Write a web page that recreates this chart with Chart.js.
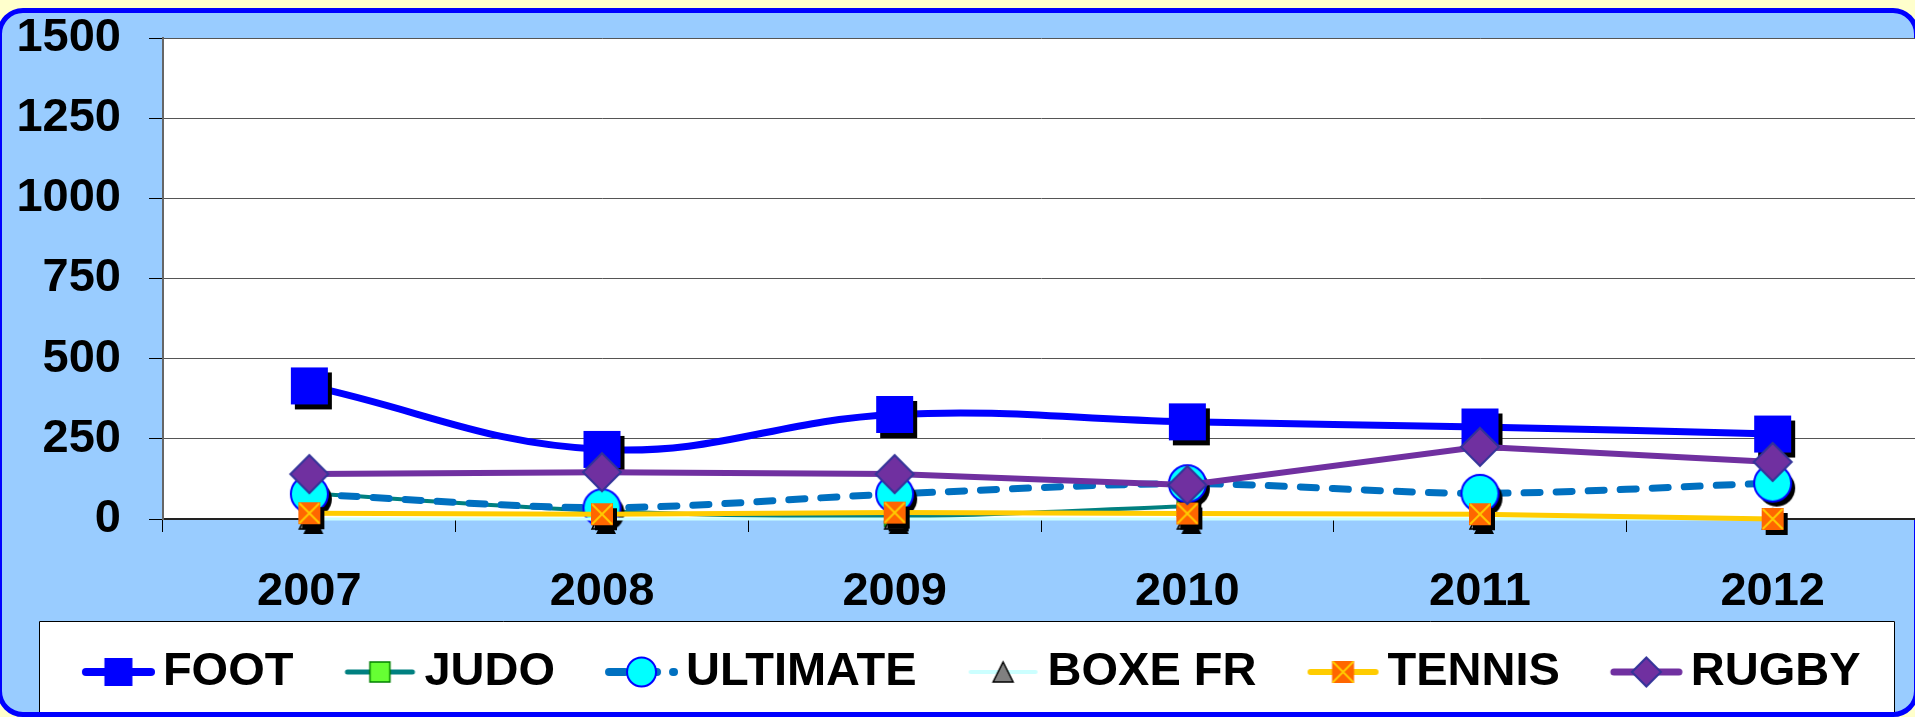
<!DOCTYPE html>
<html lang="fr">
<head>
<meta charset="utf-8">
<title>Licenciés par sport 2007-2012</title>
<script src="https://cdn.jsdelivr.net/npm/chart.js@4.4.0/dist/chart.umd.min.js"></script>
<style>
    html, body {
        margin: 0;
        padding: 0;
        width: 1915px;
        height: 717px;
        overflow: hidden;
        background: #ffffcc;
    }
    #frame {
        position: absolute;
        left: -3px;
        top: 8px;
        width: 1922px;
        height: 709px;
        box-sizing: border-box;
        border: 5px solid #0000ff;
        border-radius: 26px;
        background: #99ccff;
    }
    #wrap {
        position: absolute;
        left: 0;
        top: 0;
        width: 1947px;
        height: 717px;
    }
</style>
</head>
<body>
<div id="frame"></div>
<div id="wrap"><canvas id="chart"></canvas></div>

<script>
// ==================== DATA ====================
const years = ['2007', '2008', '2009', '2010', '2011', '2012'];

const foot     = [415, 217, 326, 303, 287, 265];
const judo     = [80, 25, 8, 40, null, null];
const ultimate = [78, 35, 78, 110, 80, 112];
const boxeFr   = [0, 0, 0, 0, 0, 0];
const tennis   = [18, 15, 20, 17, 15, 0];
const rugby    = [140, 146, 140, 106, 225, 178];

const yTicks = [0, 250, 500, 750, 1000, 1250, 1500];

// ==================== MARKERS ====================
const FONT = "'Liberation Sans', Arial, sans-serif";
const SHADOW = { dx: 4, dy: 5 };
const KEY_LEAD = 36;   // empty room left of each legend key, shifts the keys right of their box

function makeCanvas(w, h, paint) {
    const c = document.createElement('canvas');
    c.width = w;
    c.height = h;
    paint(c.getContext('2d'), w / 2, h / 2);
    return c;
}

const shapes = {
    square(ctx, x, y, s) { ctx.beginPath(); ctx.rect(x - s / 2, y - s / 2, s, s); },
    circle(ctx, x, y, s) { ctx.beginPath(); ctx.arc(x, y, s / 2, 0, Math.PI * 2); },
    triangle(ctx, x, y, s) {
        ctx.beginPath();
        ctx.moveTo(x, y - s / 2);
        ctx.lineTo(x + s / 2, y + s / 2);
        ctx.lineTo(x - s / 2, y + s / 2);
        ctx.closePath();
    },
    diamond(ctx, x, y, s) {
        ctx.beginPath();
        ctx.moveTo(x, y - s / 2);
        ctx.lineTo(x + s / 2, y);
        ctx.lineTo(x, y + s / 2);
        ctx.lineTo(x - s / 2, y);
        ctx.closePath();
    }
};

// one marker: optional drop shadow, fill, border, optional cross
function paintMarker(ctx, x, y, m, size, withShadow) {
    const draw = shapes[m.shape];
    if (withShadow && m.shadow) {
        draw(ctx, x + SHADOW.dx, y + SHADOW.dy, size);
        ctx.fillStyle = '#000';
        ctx.fill();
    }
    draw(ctx, x, y, size);
    ctx.fillStyle = m.fill;
    ctx.fill();
    if (m.stroke) {
        ctx.lineWidth = m.strokeWidth || 1.5;
        ctx.strokeStyle = m.stroke;
        ctx.stroke();
    }
    if (m.cross) {
        const h = size / 2 - 1;
        ctx.beginPath();
        ctx.moveTo(x - h, y - h); ctx.lineTo(x + h, y + h);
        ctx.moveTo(x + h, y - h); ctx.lineTo(x - h, y + h);
        ctx.lineWidth = 2;
        ctx.strokeStyle = m.cross;
        ctx.stroke();
    }
}

const series = [
    { label: 'FOOT', data: foot, line: '#0000ff', width: 7, tension: 0.4,
      marker: { shape: 'square', fill: '#0000ff', size: 37, legendSize: 28, shadow: true } },
    { label: 'JUDO', data: judo, line: '#008080', width: 4, tension: 0.3,
      marker: { shape: 'square', fill: '#66ff33', stroke: '#008000', size: 20, legendSize: 20, shadow: true } },
    { label: 'ULTIMATE', data: ultimate, line: '#0070c0', width: 7, tension: 0.3, dash: [16, 16],
      marker: { shape: 'circle', fill: '#00ffff', stroke: '#0000ff', strokeWidth: 2, size: 37, legendSize: 29, shadow: true } },
    { label: 'BOXE FR', data: boxeFr, line: '#ccffff', width: 3, tension: 0.3,
      marker: { shape: 'triangle', fill: '#808080', stroke: '#000000', size: 20, legendSize: 20, shadow: true } },
    { label: 'TENNIS', data: tennis, line: '#ffcc00', width: 5, tension: 0,
      marker: { shape: 'square', fill: '#ff6600', cross: '#ffcc00', size: 22, legendSize: 22, shadow: true } },
    { label: 'RUGBY', data: rugby, line: '#7030a0', width: 6, tension: 0,
      marker: { shape: 'diamond', fill: '#7030a0', stroke: '#333399', strokeWidth: 2, size: 38, legendSize: 29, shadow: false } }
];

// plot markers (with shadow, kept centred on the point)
const pointIcons = series.map(s => {
    const side = s.marker.size + 2 * 12;
    return makeCanvas(side, side, (ctx, x, y) => paintMarker(ctx, x, y, s.marker, s.marker.size, true));
});

// legend keys: short line segment with the marker on it
const legendIcons = series.map(s => makeCanvas(73 + KEY_LEAD, 34, (ctx, x, y) => {
    const x0 = KEY_LEAD;
    ctx.beginPath();
    ctx.moveTo(x0 + 4, y);
    ctx.lineTo(x0 + 69, y);
    ctx.lineCap = 'round';
    ctx.lineWidth = Math.max(3, Math.min(8, s.width + 1));
    if (s.dash) ctx.setLineDash(s.dash);
    ctx.strokeStyle = s.line;
    ctx.stroke();
    ctx.setLineDash([]);
    paintMarker(ctx, x0 + 36.5, y, s.marker, s.marker.legendSize, false);
}));

// ==================== BACKGROUND ====================
const LEGEND_FRAME = { left: 39, top: 621, right: 1895, bottom: 712 };

const panelBackground = {
    id: 'panelBackground',
    beforeDraw(chart) {
        const { ctx, chartArea: a } = chart;
        ctx.save();
        ctx.fillStyle = '#ffffff';
        ctx.fillRect(a.left, a.top, a.right - a.left, a.bottom - a.top);

        const f = LEGEND_FRAME;
        ctx.fillRect(f.left, f.top, f.right - f.left, f.bottom - f.top);
        ctx.beginPath();
        ctx.moveTo(f.left + 0.5, f.bottom);
        ctx.lineTo(f.left + 0.5, f.top + 0.5);
        ctx.lineTo(f.right - 0.5, f.top + 0.5);
        ctx.lineTo(f.right - 0.5, f.bottom);
        ctx.strokeStyle = '#000';
        ctx.lineWidth = 1;
        ctx.stroke();
        ctx.restore();
    }
};

// ==================== CHART ====================
Chart.defaults.color = '#000';
Chart.defaults.font.family = FONT;
Chart.defaults.font.weight = 'bold';

new Chart(document.getElementById('chart'), {
    type: 'line',
    data: {
        labels: years,
        datasets: series.map((s, i) => ({
            label: s.label,
            data: s.data,
            order: series.length - i,
            borderColor: s.line,
            backgroundColor: s.marker.fill,
            borderWidth: s.width,
            borderDash: s.dash || [],
            borderCapStyle: s.dash ? 'round' : 'butt',
            tension: s.tension,
            pointStyle: pointIcons[i],
            pointRadius: 20,
            pointHoverRadius: 20,
            spanGaps: false,
            clip: false,
            fill: false
        }))
    },
    options: {
        responsive: true,
        maintainAspectRatio: false,
        devicePixelRatio: 1,
        animation: false,
        events: [],
        layout: { padding: { left: 3, top: 38, right: 28, bottom: 11.5 } },
        scales: {
            x: {
                offset: true,
                afterFit: (scale) => { scale.height = 100; },
                grid: {
                    offset: true,
                    drawOnChartArea: false,
                    tickLength: 13,
                    tickColor: '#000',
                    tickWidth: 1
                },
                border: { color: '#222', width: 2 },
                // tall line box puts the year labels well below the tick marks
                ticks: { font: { size: 47, weight: 'bold', lineHeight: 2.55 }, padding: 0, maxRotation: 0, autoSkip: false }
            },
            y: {
                min: yTicks[0],
                max: yTicks[yTicks.length - 1],
                afterFit: (scale) => { scale.width = 160; },
                afterBuildTicks: (scale) => { scale.ticks = yTicks.map(v => ({ value: v })); },
                grid: {
                    color: '#555',
                    lineWidth: 1,
                    tickLength: 14,
                    tickColor: '#000'
                },
                border: { color: '#666', width: 2 },
                ticks: {
                    font: { size: 47, weight: 'bold', lineHeight: 0.4 },
                    padding: 28,
                    autoSkip: false,
                    callback: (v) => String(v)
                }
            }
        },
        plugins: {
            tooltip: { enabled: false },
            legend: {
                position: 'bottom',
                labels: {
                    usePointStyle: true,
                    pointStyleWidth: 42 + KEY_LEAD,
                    padding: 29.5,
                    color: '#000',
                    font: { size: 47, weight: 'bold' },
                    sort: (a, b) => a.datasetIndex - b.datasetIndex,
                    generateLabels: (chart) =>
                        Chart.defaults.plugins.legend.labels.generateLabels(chart).map(item => {
                            item.pointStyle = legendIcons[item.datasetIndex];
                            return item;
                        })
                }
            }
        }
    },
    plugins: [panelBackground]
});
</script>
</body>
</html>
